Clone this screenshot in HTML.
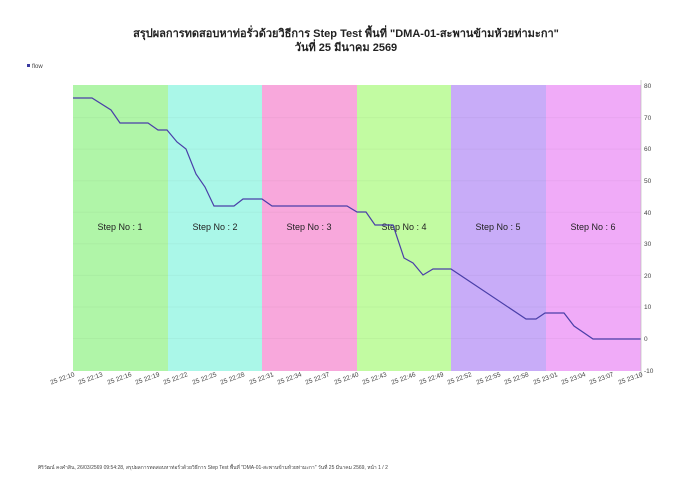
<!DOCTYPE html>
<html><head><meta charset="utf-8"><style>
body{margin:0;background:#fff;width:692px;height:480px;overflow:hidden;font-family:"Liberation Sans","Noto Sans CJK SC",sans-serif}
</style></head><body>
<svg width="692" height="480" xmlns="http://www.w3.org/2000/svg" font-family="Liberation Sans, Noto Sans CJK SC, sans-serif">
<text x="346" y="37" text-anchor="middle" font-size="11" font-weight="bold" fill="#222">สรุปผลการทดสอบหาท่อรั่วด้วยวิธีการ Step Test พื้นที่ "DMA-01-สะพานข้ามห้วยท่ามะกา"</text>
<text x="346" y="51" text-anchor="middle" font-size="11" font-weight="bold" fill="#222">วันที่ 25 มีนาคม 2569</text>
<rect x="27" y="64" width="3" height="3" fill="#3a3aa0"/>
<text x="32" y="68" font-size="6" fill="#444">flow</text>
<rect x="73" y="85" width="95" height="286" fill="#b0f5a8"/>
<rect x="168" y="85" width="94" height="286" fill="#aaf7e8"/>
<rect x="262" y="85" width="95" height="286" fill="#f8a8dc"/>
<rect x="357" y="85" width="94" height="286" fill="#c2fba2"/>
<rect x="451" y="85" width="95" height="286" fill="#c8acf8"/>
<rect x="546" y="85" width="95" height="286" fill="#f0abf8"/>
<g stroke="#000" stroke-opacity="0.03">
<line x1="73" x2="641" y1="117.6" y2="117.6"/><line x1="73" x2="641" y1="149.1" y2="149.1"/><line x1="73" x2="641" y1="180.7" y2="180.7"/><line x1="73" x2="641" y1="212.3" y2="212.3"/><line x1="73" x2="641" y1="243.8" y2="243.8"/><line x1="73" x2="641" y1="275.4" y2="275.4"/><line x1="73" x2="641" y1="307" y2="307"/><line x1="73" x2="641" y1="338.5" y2="338.5"/>
</g>
<g font-size="9" fill="#222" text-anchor="middle">
<text x="120" y="230">Step No : 1</text><text x="215" y="230">Step No : 2</text><text x="309" y="230">Step No : 3</text><text x="404" y="230">Step No : 4</text><text x="498" y="230">Step No : 5</text><text x="593" y="230">Step No : 6</text>
</g>
<polyline fill="none" stroke="#4a3fa8" stroke-width="1.2" points="73,98 92,98 111,110 120,123 148,123 158,130 167,130 177,142 186,149 196,174 205,187 214,206 234,206 243,199 262,199 272,206 347,206 357,212 366,212 375,225 393,225 404,258 413,263 423,275 433,269 451,269 526,319 536,319 545,313 564,313 574,326 593,339 641,339"/>
<line x1="641" y1="80" x2="641" y2="378" stroke="#bbb" stroke-width="0.7"/>
<g font-size="6.5" fill="#444">
<text x="644" y="88">80</text><text x="644" y="120">70</text><text x="644" y="151">60</text><text x="644" y="183">50</text><text x="644" y="215">40</text><text x="644" y="246">30</text><text x="644" y="278">20</text><text x="644" y="309">10</text><text x="644" y="341">0</text><text x="644" y="373">-10</text>
</g>
<g font-size="6.5" fill="#444" text-anchor="end">
<text transform="translate(75,376) rotate(-20)">25 22:10</text>
<text transform="translate(103,376) rotate(-20)">25 22:13</text>
<text transform="translate(132,376) rotate(-20)">25 22:16</text>
<text transform="translate(160,376) rotate(-20)">25 22:19</text>
<text transform="translate(188,376) rotate(-20)">25 22:22</text>
<text transform="translate(217,376) rotate(-20)">25 22:25</text>
<text transform="translate(245,376) rotate(-20)">25 22:28</text>
<text transform="translate(274,376) rotate(-20)">25 22:31</text>
<text transform="translate(302,376) rotate(-20)">25 22:34</text>
<text transform="translate(330,376) rotate(-20)">25 22:37</text>
<text transform="translate(359,376) rotate(-20)">25 22:40</text>
<text transform="translate(387,376) rotate(-20)">25 22:43</text>
<text transform="translate(416,376) rotate(-20)">25 22:46</text>
<text transform="translate(444,376) rotate(-20)">25 22:49</text>
<text transform="translate(472,376) rotate(-20)">25 22:52</text>
<text transform="translate(501,376) rotate(-20)">25 22:55</text>
<text transform="translate(529,376) rotate(-20)">25 22:58</text>
<text transform="translate(558,376) rotate(-20)">25 23:01</text>
<text transform="translate(586,376) rotate(-20)">25 23:04</text>
<text transform="translate(614,376) rotate(-20)">25 23:07</text>
<text transform="translate(643,376) rotate(-20)">25 23:10</text>
</g>
<text x="38" y="469" font-size="5" fill="#444">ศิริวัฒน์ คงคำสิน, 26/03/2569 09:54:28, สรุปผลการทดสอบหาท่อรั่วด้วยวิธีการ Step Test พื้นที่ "DMA-01-สะพานข้ามห้วยท่ามะกา" วันที่ 25 มีนาคม 2569, หน้า 1 / 2</text>
</svg>
</body></html>
